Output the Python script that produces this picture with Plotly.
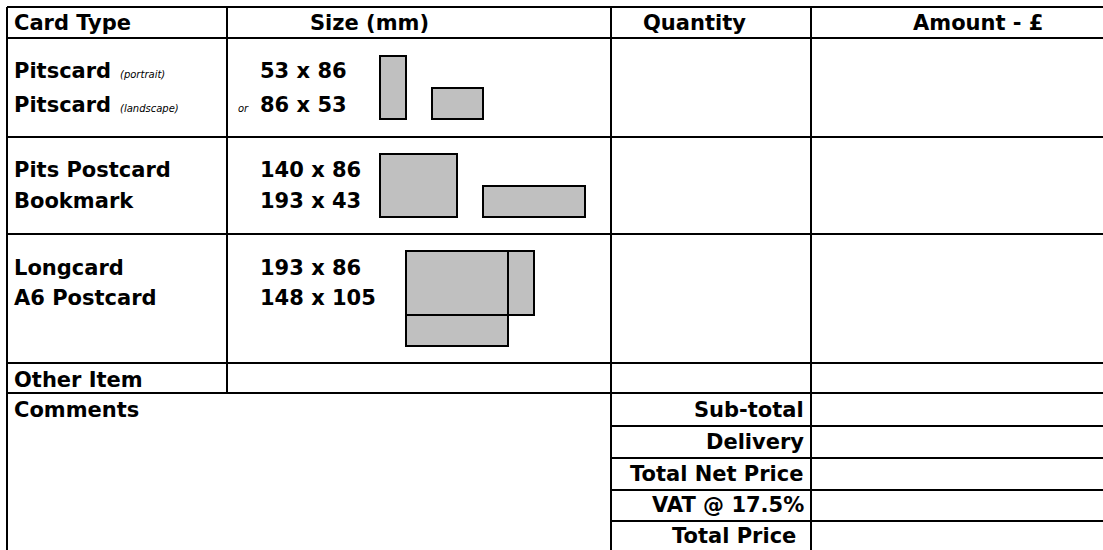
import plotly.graph_objects as go

W, H = 1103, 550

# ---- content ----
headers = ["Card Type", "Size (mm)", "Quantity", "Amount - £"]
header_x = [12, 308, 641, 911]

card_types = ["Pitscard", "Pitscard", "Pits Postcard", "Bookmark", "Longcard", "A6 Postcard"]
card_notes = ["(portrait)", "(landscape)", "", "", "", ""]
card_sizes = ["53 x 86", "86 x 53", "140 x 86", "193 x 43", "193 x 86", "148 x 105"]
size_prefix = ["", "or", "", "", "", ""]
line_y = [71, 105, 170, 201, 268, 298]

other_labels = ["Other Item", "Comments"]
other_y = [380, 410]

summary_labels = ["Sub-total", "Delivery", "Total Net Price", "VAT @ 17.5%", "Total Price\u00a0"]
summary_y = [410, 442, 474, 505, 536]

# ---- layout geometry (table grid and card icons) ----
full_rows = [7, 38, 137, 234, 363, 393]
right_rows = [426, 458, 490, 521]
cols = [(7, 7, 551), (227, 7, 393), (611, 7, 551), (811, 7, 551)]
left_x, right_x = 7, 1104
sub_x = 611

# icon boxes: (x0, y0, x1, y1)
icons = [
    (380, 56, 406, 119),   # portrait
    (432, 88, 483, 119),   # landscape
    (380, 154, 457, 217),  # pits postcard
    (483, 186, 585, 217),  # bookmark
    (406, 251, 534, 315),  # longcard
    (406, 251, 508, 346),  # A6 postcard
]

FONT = "DejaVu Sans"
BOLD = dict(family=FONT, size=21, color="black", weight="bold")
SMALL = dict(family=FONT, size=10, color="black", style="italic")

shapes = []
for y in full_rows:
    shapes.append(dict(type="line", x0=left_x, x1=right_x, y0=y, y1=y,
                       xref="x", yref="y", line=dict(color="black", width=2)))
for y in right_rows:
    shapes.append(dict(type="line", x0=sub_x, x1=right_x, y0=y, y1=y,
                       xref="x", yref="y", line=dict(color="black", width=2)))
for x, y0, y1 in cols:
    shapes.append(dict(type="line", x0=x, x1=x, y0=y0, y1=y1,
                       xref="x", yref="y", line=dict(color="black", width=2)))
# fills first, outlines after so overlapping outlines stay visible
for x0, y0, x1, y1 in icons:
    shapes.append(dict(type="rect", x0=x0, x1=x1, y0=y0, y1=y1, xref="x", yref="y",
                       fillcolor="#c0c0c0", line=dict(width=0), layer="above"))
for x0, y0, x1, y1 in icons:
    shapes.append(dict(type="rect", x0=x0, x1=x1, y0=y0, y1=y1, xref="x", yref="y",
                       fillcolor="rgba(0,0,0,0)", line=dict(color="black", width=2), layer="above"))

ann = []
def txt(x, y, s, font, anchor="left"):
    ann.append(dict(x=x, y=y, text=s, xref="x", yref="y", showarrow=False,
                    xanchor=anchor, yanchor="middle", font=font))

for s, x in zip(headers, header_x):
    txt(x, 23, s, BOLD)

for name, note, size, pre, y in zip(card_types, card_notes, card_sizes, size_prefix, line_y):
    txt(12, y, name, BOLD)
    if note:
        txt(118, y + 3, note, SMALL)
    txt(258, y, size, BOLD)
    if pre:
        txt(236, y + 3, pre, SMALL)

for s, y in zip(other_labels, other_y):
    txt(12, y, s, BOLD)

for s, y in zip(summary_labels, summary_y):
    txt(806, y, s, BOLD, anchor="right")

fig = go.Figure()
fig.add_trace(go.Scatter(x=[0, W], y=[0, H], mode="markers",
                         marker=dict(opacity=0), hoverinfo="skip", showlegend=False))
fig.update_layout(
    width=W, height=H, margin=dict(l=0, r=0, t=0, b=0),
    paper_bgcolor="white", plot_bgcolor="white",
    xaxis=dict(range=[0, W], visible=False, fixedrange=True),
    yaxis=dict(range=[H, 0], visible=False, fixedrange=True),
    shapes=shapes, annotations=ann, showlegend=False,
)
fig.write_html(
    "out.html",
    config={"displayModeBar": False},
    post_script="document.body.style.margin='0';document.body.style.overflow='hidden';",
)
